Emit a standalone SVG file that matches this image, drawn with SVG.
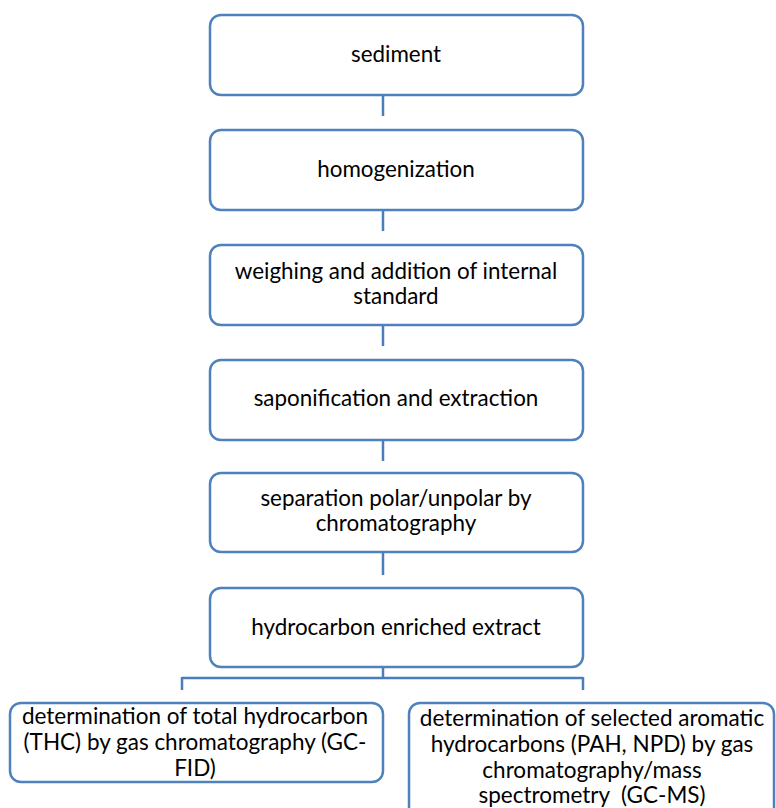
<svg xmlns="http://www.w3.org/2000/svg" width="776" height="808" viewBox="0 0 776 808">
<style>
.box{fill:#fff;stroke:#4f81bd;stroke-width:2.5}
.t{font-family:Lato,"Liberation Sans",sans-serif;font-size:22.4px;fill:#000;text-anchor:middle}
.tb{font-family:Lato,"Liberation Sans",sans-serif;font-size:22.5px;fill:#000;text-anchor:middle}
.c{fill:none;stroke:#4a7ebb;stroke-width:2.5}
</style>
<rect width="776" height="808" fill="#fff"/>
<g id="connectors">
<path class="c" d="M383 95V116M383 210V231M383 325V346M383 440V461M383 552V575"/>
<path class="c" d="M383 667V678M182 678H583M182 677V690M583 677V690"/>
</g>
<g id="n1"><rect class="box" x="210" y="15" width="373" height="80" rx="11"/><text class="t" x="396" y="62">sediment</text></g>
<g id="n2"><rect class="box" x="210" y="130" width="373" height="80" rx="11"/><text class="t" x="396" y="177">homogenization</text></g>
<g id="n3"><rect class="box" x="210" y="245" width="373" height="80" rx="11"/><text class="t" x="396" y="279">weighing and addition of internal</text><text class="t" x="396" y="304">standard</text></g>
<g id="n4"><rect class="box" x="210" y="360" width="373" height="80" rx="11"/><text class="t" x="396" y="406">saponification and extraction</text></g>
<g id="n5"><rect class="box" x="210" y="473" width="373" height="79" rx="11"/><text class="t" x="396" y="506">separation polar/unpolar by</text><text class="t" x="396" y="531">chromatography</text></g>
<g id="n6"><rect class="box" x="210" y="588" width="373" height="79" rx="11"/><text class="t" x="396" y="635">hydrocarbon enriched extract</text></g>
<g id="n7"><rect class="box" x="10" y="703" width="373" height="79" rx="11"/><text class="tb" x="195" y="724">determination of total hydrocarbon</text><text class="tb" x="195" y="750">(THC) by gas chromatography (GC-</text><text class="tb" x="195" y="776">FID)</text></g>
<g id="n8"><rect class="box" x="409" y="703" width="365" height="120" rx="11"/><text class="tb" x="592" y="726">determination of selected aromatic</text><text class="tb" x="592" y="752">hydrocarbons (PAH, NPD) by gas</text><text class="tb" x="592" y="778">chromatography/mass</text><text class="tb" x="592" y="803">spectrometry&#160; (GC-MS)</text></g>
</svg>
